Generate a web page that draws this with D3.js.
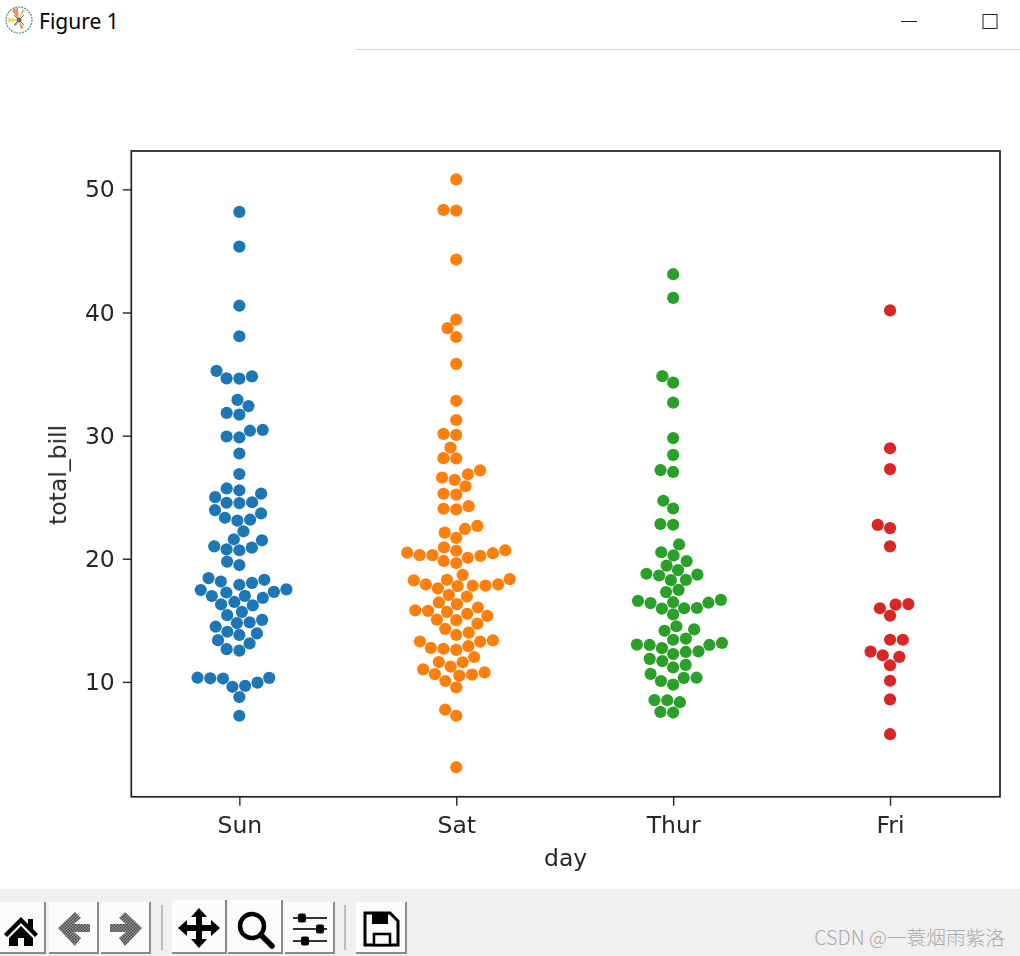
<!DOCTYPE html>
<html>
<head>
<meta charset="utf-8">
<script src="https://cdn.jsdelivr.net/npm/d3@7"></script>
<style>
  html, body { margin: 0; padding: 0; background: #fff; }
  svg { display: block; }
  text { font-family: "DejaVu Sans", sans-serif; fill: #262626; }
</style>
</head>
<body>
<svg width="1020" height="956"></svg>
<script>
// total_bill per day
const days = ["Sun", "Sat", "Thur", "Fri"];
const dayColors = ["#1f77b4", "#ff7f0e", "#2ca02c", "#d62728"];
const yTicks = [10, 20, 30, 40, 50];

const sunBills = [
  16.99, 10.34, 21.01, 23.68, 24.59, 25.29, 8.77, 26.88, 15.04, 14.78, 10.27, 35.26, 15.42, 18.43, 14.83, 21.58,
  10.33, 16.29, 16.97, 17.46, 13.94, 9.68, 30.4, 18.29, 22.23, 32.4, 28.55, 18.04, 12.54, 10.29, 34.81, 9.94,
  25.56, 19.49, 38.07, 23.95, 25.71, 17.31, 29.93, 14.07, 13.13, 17.26, 24.55, 19.77, 29.85, 48.17, 25.0, 13.39,
  16.49, 21.5, 12.66, 16.21, 13.81, 17.51, 24.52, 20.76, 31.71, 7.25, 31.85, 16.82, 32.9, 17.89, 14.48, 9.6,
  34.63, 34.65, 23.33, 45.35, 23.17, 40.55, 20.69, 20.9, 30.46, 18.15, 23.1, 15.69,
];
const satBills = [
  20.65, 17.92, 20.29, 15.77, 39.42, 19.82, 17.81, 13.37, 12.69, 21.7, 19.65, 9.55, 18.35, 15.06, 20.69, 17.78,
  24.06, 16.31, 16.93, 18.69, 31.27, 16.04, 38.01, 26.41, 11.24, 48.27, 20.29, 13.81, 11.02, 18.29, 17.59, 20.08,
  16.45, 3.07, 20.23, 15.01, 12.02, 17.07, 26.86, 25.28, 14.73, 10.51, 17.92, 44.3, 22.42, 20.92, 15.36, 20.49,
  25.21, 18.24, 14.31, 14.0, 7.25, 10.59, 10.63, 50.81, 15.81, 26.59, 38.73, 24.27, 12.76, 30.06, 25.89, 48.33,
  13.27, 28.17, 12.9, 28.15, 11.59, 7.74, 30.14, 20.45, 13.28, 22.12, 24.01, 15.69, 11.61, 10.77, 15.53, 10.07,
  12.6, 32.83, 35.83, 29.03, 27.18, 22.67, 17.82,
];
const thurBills = [
  27.2, 22.76, 17.29, 19.44, 16.66, 10.07, 32.68, 15.98, 34.83, 13.03, 18.28, 24.71, 21.16, 10.65, 12.43, 24.08,
  11.69, 13.42, 14.26, 15.95, 12.48, 29.8, 8.52, 14.52, 11.38, 22.82, 19.08, 20.27, 11.17, 12.26, 18.26, 8.51,
  10.33, 14.15, 16.0, 13.16, 17.47, 34.3, 41.19, 27.05, 16.43, 8.35, 18.64, 11.87, 9.78, 7.51, 19.81, 28.44,
  15.48, 16.58, 7.56, 10.34, 43.11, 13.0, 13.51, 18.71, 12.74, 13.0, 16.4, 20.53, 16.47, 18.78,
];
const friBills = [
  28.97, 22.49, 5.75, 16.32, 22.75, 40.17, 27.28, 12.03, 21.01, 12.46, 11.35, 15.38, 12.16, 13.42, 8.58, 15.98,
  13.42, 16.27, 10.09,
];
const billsByDay = [sunBills, satBills, thurBills, friBills];
// points that go right, not left, when both sides of the midline are equally free
const rightTies = [12.03];

const svg = d3.select("svg");
const axLeft = 131.3, axRight = 1000, axTop = 151, axBottom = 796.8;
const labelSize = "23.5px";
const dotDiameter = 12.17; // swarm spacing
const dotRadius = 6.1;

// same limits matplotlib picks: 5% padding round the data
const yLo = d3.min(billsByDay, (b) => d3.min(b));
const yHi = d3.max(billsByDay, (b) => d3.max(b));
const yPad = (yHi - yLo) * 0.05;

const xScale = d3.scalePoint().domain(days).range([130.9, 998.5]).padding(0.5);
const yScale = d3.scaleLinear().domain([yLo - yPad, yHi + yPad]).range([796.6, 150]);

const defs = svg.append("defs");
defs.append("filter").attr("id", "soft").append("feGaussianBlur").attr("stdDeviation", 0.6);
defs.append("filter").attr("id", "softer").append("feGaussianBlur").attr("stdDeviation", 0.35);

const disabled = defs.append("pattern").attr("id", "dither")
  .attr("width", 3).attr("height", 3).attr("patternUnits", "userSpaceOnUse");
disabled.append("rect").attr("width", 3).attr("height", 3).attr("fill", "#9a9a9a");
disabled.append("rect").attr("width", 1.5).attr("height", 1.5).attr("fill", "#444");
disabled.append("rect").attr("x", 1.5).attr("y", 1.5).attr("width", 1.5).attr("height", 1.5).attr("fill", "#444");

// Window title bar
const titleBar = svg.append("g");
const logo = titleBar.append("g").attr("transform", "translate(19,20)");
logo.append("circle").attr("r", 13).attr("fill", "#fff").attr("stroke", "#4d7f9e").attr("stroke-width", 1.2).attr("stroke-dasharray", "2 1");
const logoArc = d3.arc().innerRadius(0);
[
  [-0.65, -0.1, 12, "#f0935f"],
  [-1.85, -1.35, 11, "#f5da60"],
  [0.3, 0.55, 11, "#b5d060"],
  [2.6, 2.95, 9, "#f0935f"],
  [3.6, 4.0, 7, "#7ab560"],
].forEach(([a0, a1, r, c]) => {
  logo.append("path").attr("d", logoArc({ startAngle: a0, endAngle: a1, outerRadius: r })).attr("fill", c);
});
logo.append("circle").attr("r", 2.5).attr("fill", "#666");
logo.append("path").attr("d", "M-5,-5L5,5M-5,5L5,-5").attr("stroke", "#777").attr("stroke-width", 1);

titleBar.append("text").attr("x", 39).attr("y", 29)
  .style("font-family", "'Noto Sans', sans-serif").style("font-size", "21px").style("fill", "#000").text("Figure 1");
titleBar.append("line").attr("x1", 901).attr("x2", 917).attr("y1", 21.5).attr("y2", 21.5).attr("stroke", "#222");
titleBar.append("rect").attr("x", 983).attr("y", 14.5).attr("width", 14).attr("height", 14).attr("fill", "none").attr("stroke", "#222");
titleBar.append("line").attr("x1", 355).attr("x2", 1020).attr("y1", 49.5).attr("y2", 49.5).attr("stroke", "#d4d4d4");

// Axes
const chart = svg.append("g").attr("class", "chart");
const frame = chart.append("g").attr("filter", "url(#softer)");

const xAxis = d3.axisBottom(xScale).tickSize(9).tickPadding(10.5);
const yAxis = d3.axisLeft(yScale).tickValues(yTicks).tickSize(8.5).tickPadding(8);

frame.append("g").attr("transform", `translate(0,${axBottom})`).call(xAxis);
frame.append("g").attr("transform", `translate(${axLeft},0)`).call(yAxis);
frame.selectAll(".domain").remove();
frame.selectAll(".tick line").attr("stroke", "#333").attr("stroke-width", 1.5);
frame.selectAll(".tick text").style("font-family", "'DejaVu Sans', sans-serif").style("font-size", labelSize).style("fill", "#262626");

frame.append("rect")
  .attr("x", axLeft).attr("y", axTop)
  .attr("width", axRight - axLeft).attr("height", axBottom - axTop)
  .attr("fill", "none").attr("stroke", "#222").attr("stroke-width", 1.7);

frame.append("text")
  .attr("x", (axLeft + axRight) / 2).attr("y", 866)
  .attr("text-anchor", "middle").style("font-size", labelSize).text("day");
frame.append("text")
  .attr("transform", `translate(66,${(axTop + axBottom) / 2 + 1}) rotate(-90)`)
  .attr("text-anchor", "middle").style("font-size", labelSize).text("total_bill");

// Swarm placement: lowest value first, each point goes to the free spot nearest the midline
function swarm(values, midline) {
  const placed = [];
  const sorted = values.slice().sort(d3.ascending);
  sorted.forEach((value) => {
    const y = yScale(value);
    const near = placed.filter((p) => Math.abs(p.y - y) < dotDiameter);
    const candidates = [midline];
    let side = rightTies.includes(value) ? 1 : -1;
    near.forEach((p) => {
      const dy = p.y - y;
      const dx = Math.sqrt(Math.max(dotDiameter * dotDiameter - dy * dy, 0)) * 1.05;
      candidates.push(p.x + side * dx, p.x - side * dx);
      side = -side;
    });
    const ordered = d3.range(candidates.length)
      .sort((a, b) => {
        const da = Math.abs(candidates[a] - midline), db = Math.abs(candidates[b] - midline);
        return Math.abs(da - db) < 1e-6 ? a - b : da - db;
      })
      .map((i) => candidates[i]);
    const x = ordered.find((cx) =>
      near.every((p) => (p.x - cx) ** 2 + (p.y - y) ** 2 >= dotDiameter * dotDiameter - 1e-6)
    );
    placed.push({ x: x, y: y, value: value });
  });
  return placed;
}

days.forEach((day, i) => {
  chart.append("g")
    .attr("filter", "url(#soft)")
    .selectAll("circle")
    .data(swarm(billsByDay[i], xScale(day)))
    .enter()
    .append("circle")
    .attr("cx", (d) => d.x)
    .attr("cy", (d) => yScale(d.value))
    .attr("r", dotRadius)
    .attr("fill", dayColors[i]);
});

// Toolbar along the bottom
const toolbar = svg.append("g");
toolbar.append("rect").attr("x", 0).attr("y", 889).attr("width", 1020).attr("height", 67).attr("fill", "#f0f0f0");

const buttons = [
  { x: -8, w: 54, y: 902 }, { x: 49, w: 50, y: 902 }, { x: 101, w: 50, y: 902 },
  { x: 172, w: 55, y: 900 }, { x: 228, w: 55, y: 900 }, { x: 285, w: 50, y: 902 }, { x: 356, w: 51, y: 902 },
];
buttons.forEach((b) => {
  toolbar.append("rect").attr("x", b.x).attr("y", b.y).attr("width", b.w).attr("height", 954 - b.y).attr("fill", "#fbfbfb");
  toolbar.append("path")
    .attr("d", `M${b.x + b.w - 1},${b.y}V953H${b.x}`)
    .attr("fill", "none").attr("stroke", "#8a8a8a").attr("stroke-width", 2);
});
[162, 345].forEach((x) => {
  toolbar.append("line").attr("x1", x).attr("x2", x).attr("y1", 905).attr("y2", 950).attr("stroke", "#bdbdbd").attr("stroke-width", 2);
});

// home
toolbar.append("path").attr("d", "M21,917L4,934L7,937L21,923L35,937L38,934L33,929V919H28V924Z").attr("fill", "#000");
toolbar.append("path").attr("d", "M21,926L9,938V946H18V938H24V946H33V938Z").attr("fill", "#000");
// back / forward, greyed out
toolbar.append("path").attr("d", "M58,928L75,912L81,918L74,924H90V932H74L81,938L75,946Z").attr("fill", "url(#dither)");
toolbar.append("path").attr("d", "M142,928L125,912L119,918L126,924H110V932H126L119,938L125,946Z").attr("fill", "url(#dither)");
// pan
toolbar.append("path")
  .attr("d", "M199,908L207,917H202V925H211V920L220,928L211,936V931H202V939H207L199,948L191,939H196V931H187V936L178,928L187,920V925H196V917H191Z")
  .attr("fill", "#000");
// zoom
toolbar.append("circle").attr("cx", 252).attr("cy", 926).attr("r", 12).attr("fill", "none").attr("stroke", "#000").attr("stroke-width", 4.5);
toolbar.append("line").attr("x1", 261).attr("y1", 935).attr("x2", 272).attr("y2", 946).attr("stroke", "#000").attr("stroke-width", 5.5).attr("stroke-linecap", "round");
// sliders
[[918, 302], [929, 320], [941, 305]].forEach(([y, knob]) => {
  toolbar.append("line").attr("x1", 293).attr("x2", 327).attr("y1", y).attr("y2", y).attr("stroke", "#333").attr("stroke-width", 2);
  toolbar.append("rect").attr("x", knob - 4).attr("y", y - 4.5).attr("width", 8).attr("height", 9).attr("rx", 2).attr("fill", "#000");
});
// save
toolbar.append("path").attr("d", "M365,913H390L398,921V945H365Z").attr("fill", "none").attr("stroke", "#000").attr("stroke-width", 3);
toolbar.append("rect").attr("x", 372).attr("y", 913).attr("width", 16).attr("height", 11).attr("fill", "#000");
toolbar.append("rect").attr("x", 374).attr("y", 934).attr("width", 16).attr("height", 11).attr("fill", "#fbfbfb").attr("stroke", "#000").attr("stroke-width", 2.5);

// Watermark
toolbar.append("text")
  .attr("x", 1005).attr("y", 945).attr("text-anchor", "end")
  .style("font-family", "'Noto Sans CJK SC', sans-serif").style("font-size", "19.7px").style("font-weight", 300).style("fill", "#aaaaaa")
  .text("CSDN @一蓑烟雨紫洛");
</script>
</body>
</html>
